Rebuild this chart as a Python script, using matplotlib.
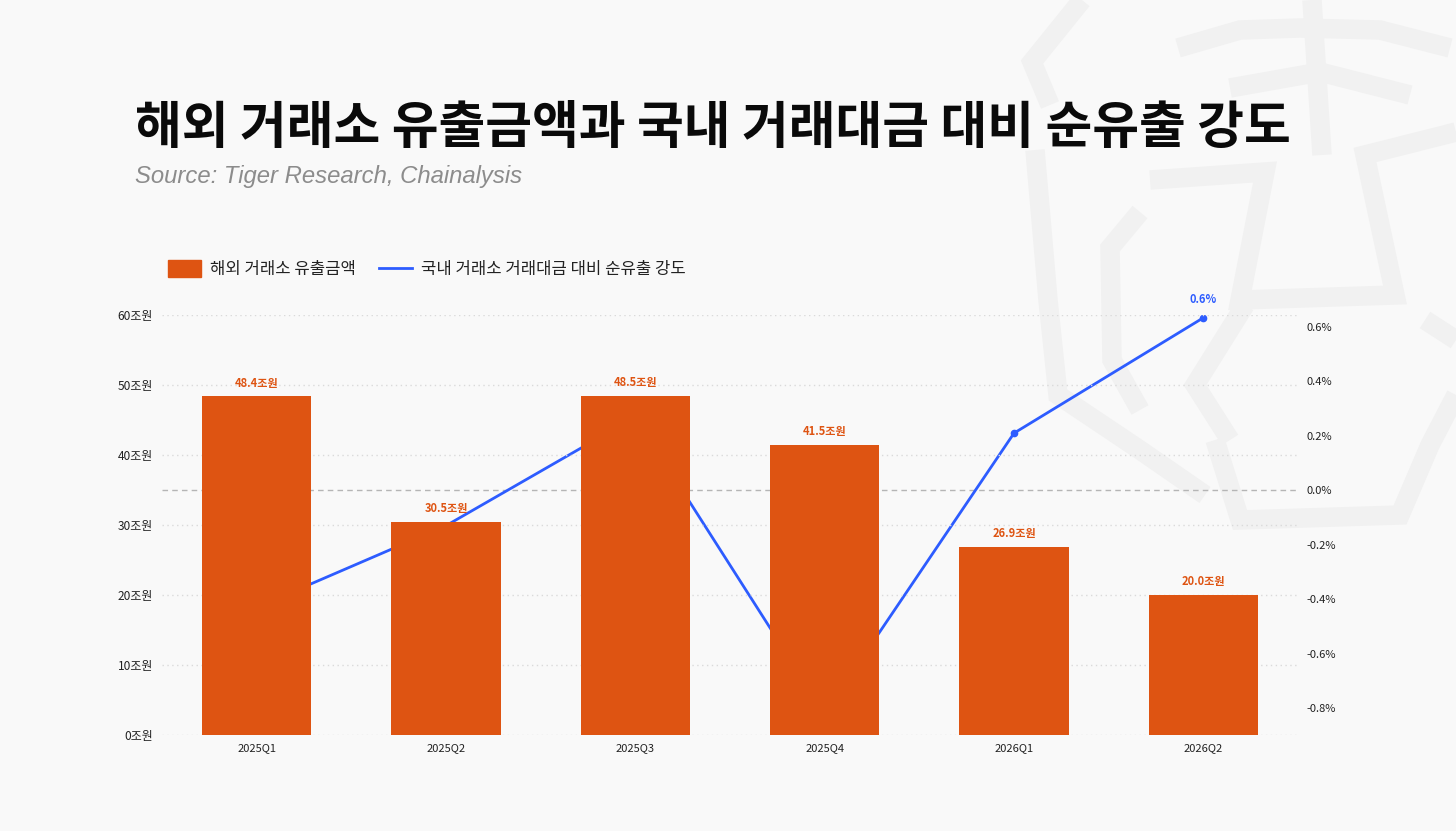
import matplotlib
matplotlib.use("Agg")
import matplotlib.pyplot as plt
from matplotlib.lines import Line2D
from matplotlib.patches import Rectangle
import numpy as np

plt.rcParams['font.family'] = ['Noto Sans CJK KR', 'DejaVu Sans']

# ---- data ----
quarters = ["2025Q1", "2025Q2", "2025Q3", "2025Q4", "2026Q1", "2026Q2"]
outflow_trillion_krw = [48.4, 30.5, 48.5, 41.5, 26.9, 20.0]
net_outflow_intensity_pct = [-0.43, -0.13, 0.27, -0.82, 0.21, 0.634]
left_ticks = [0, 10, 20, 30, 40, 50, 60]
right_ticks = [-0.8, -0.6, -0.4, -0.2, 0.0, 0.2, 0.4, 0.6]

title = "해외 거래소 유출금액과 국내 거래대금 대비 순유출 강도"
subtitle = "Source: Tiger Research, Chainalysis"
legend_bar = "해외 거래소 유출금액"
legend_line = "국내 거래소 거래대금 대비 순유출 강도"

BG = "#f9f9f9"
ORANGE = "#de5412"
BLUE = "#2d5cff"
WM = "#f1f1f1"

W, H = 1456, 831
fig = plt.figure(figsize=(W / 100, H / 100), dpi=100, facecolor=BG)

def fx(px):
    return px / W

def fy(py):
    return 1 - py / H

# ---- watermark (decorative tiger logo, approximated) ----
wm_paths = [
    [(1082, 0), (1032, 62), (1050, 105)],
    [(1035, 150), (1048, 300), (1058, 395), (1140, 450), (1205, 495)],
    [(1140, 212), (1110, 248), (1112, 360), (1140, 410)],
    [(1178, 48), (1240, 30), (1300, 28), (1380, 30), (1450, 48)],
    [(1230, 88), (1320, 72), (1410, 95)],
    [(1312, 0), (1322, 155)],
    [(1150, 180), (1265, 172), (1240, 300), (1395, 295), (1365, 155), (1456, 132)],
    [(1215, 440), (1240, 520), (1400, 515), (1430, 445), (1456, 395)],
    [(1425, 320), (1456, 340)],
    [(1245, 305), (1195, 385), (1230, 440)],
]
for p in wm_paths:
    xs = [fx(a) for a, b in p]
    ys = [fy(b) for a, b in p]
    fig.add_artist(Line2D(xs, ys, color=WM, lw=14, solid_joinstyle='miter',
                          solid_capstyle='butt', zorder=0.2))

# ---- axes ----
left_px, right_px, top_px, bot_px = 162, 1298, 315, 735
ax = fig.add_axes([fx(left_px), fy(bot_px), fx(right_px) - fx(left_px), (bot_px - top_px) / H])
ax2 = ax.twinx()
ax.set_zorder(2)
ax2.set_zorder(1)
ax.patch.set_visible(False)
ax2.patch.set_visible(False)

x = np.arange(len(quarters))

# line (behind bars)
ax2.axhline(0, color="#b5b5b5", lw=1, ls=(0, (4, 3)), zorder=1)
ax2.plot(x, net_outflow_intensity_pct, color=BLUE, lw=2, marker='o', markersize=4.5, zorder=3)
ax2.set_ylim(-0.8993, 0.6442)
ax2.set_yticks(right_ticks)
ax2.set_yticklabels([f"{t:.1f}%" for t in right_ticks])
ax2.annotate(f"{net_outflow_intensity_pct[-1]:.1f}%", (x[-1], net_outflow_intensity_pct[-1]),
             xytext=(0, 13), textcoords='offset points', ha='center', va='center',
             fontsize=8, fontweight='bold', color=BLUE)

# bars
bars = ax.bar(x, outflow_trillion_krw, width=0.577, color=ORANGE, zorder=3)
for xi, v in zip(x, outflow_trillion_krw):
    ax.annotate(f"{v:.1f}조원", (xi, v), xytext=(0, 9.5), textcoords='offset points',
                ha='center', va='center', fontsize=8, fontweight='bold', color=ORANGE)

ax.set_xlim(-0.5, 5.5)
ax.set_ylim(0, 60)
ax.set_yticks(left_ticks)
ax.set_yticklabels([f"{t}조원" for t in left_ticks])
ax.set_xticks(x)
ax.set_xticklabels(quarters)
ax.set_axisbelow(True)
ax.yaxis.grid(True, color="#dadada", lw=1, ls=(0, (1, 2.5)))
ax.xaxis.grid(False)

for a in (ax, ax2):
    for s in a.spines.values():
        s.set_visible(False)
ax.tick_params(axis='both', length=0, labelsize=8, colors="#222222")
ax.tick_params(axis='y', pad=6.5, labelsize=8.6)
ax.tick_params(axis='x', pad=6)
ax2.tick_params(axis='y', length=0, labelsize=8, colors="#222222", pad=5.8)

# ---- titles ----
fig.text(fx(135), fy(128), title, fontsize=36.6, fontweight='bold', color="#0a0a0a",
         ha='left', va='center')
fig.text(fx(135), fy(177), subtitle, fontsize=17.2, style='italic', color="#8c8c8c",
         family=['Liberation Sans', 'DejaVu Sans'], ha='left', va='center')

# ---- legend ----
fig.add_artist(Rectangle((fx(168), fy(277)), fx(201) - fx(168), (277 - 260) / H,
                         color=ORANGE, zorder=3))
fig.text(fx(210), fy(269.5), legend_bar, fontsize=12, color="#222222", ha='left', va='center')
fig.add_artist(Line2D([fx(379), fx(412)], [fy(268.5), fy(268.5)], color=BLUE, lw=2, zorder=3))
fig.text(fx(421), fy(269.5), legend_line, fontsize=12, color="#222222", ha='left', va='center')

fig.savefig("out.png", dpi=100, facecolor=BG)
